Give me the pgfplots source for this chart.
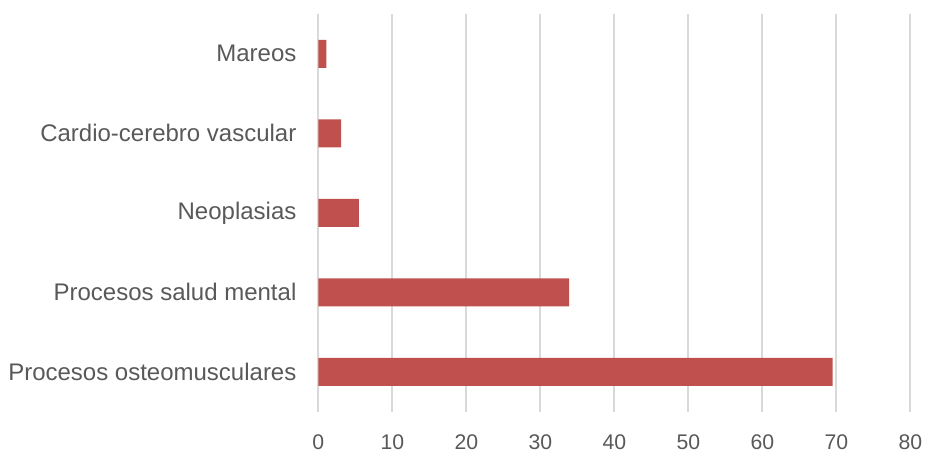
\documentclass[border=0pt]{standalone}
\usepackage{fontspec}
\setmainfont{Liberation Sans}
\usepackage{pgfplots}
\pgfplotsset{compat=1.18}
\definecolor{barred}{HTML}{C0504D}
\definecolor{gridgray}{HTML}{D9D9D9}
\definecolor{txtgray}{HTML}{595959}
\begin{document}
\begin{tikzpicture}
\path[use as bounding box] (-159.15pt,-19.65pt) rectangle (303.35pt,205.85pt);
\begin{axis}[
  at={(0,0)}, anchor=south west,
  scale only axis, width=296pt, height=198.85pt,
  xbar, bar width=14pt,
  xmin=0, xmax=80, ymin=-0.5, ymax=4.5,
  xtick={0,10,...,80},
  ytick={0,1,2,3,4},
  yticklabels={Procesos osteomusculares, Procesos salud mental, Neoplasias, Cardio-cerebro vascular, Mareos},
  axis line style={draw=none},
  xmajorgrids, major grid style={gridgray, line width=1pt},
  major tick length=0pt,
  tick style={draw=none},
  /pgf/number format/assume math mode=true,
  xticklabel style={anchor=north, inner sep=0pt, yshift=-11.2pt, font=\fontsize{10.6}{12}\selectfont, text=txtgray},
  yticklabel style={anchor=east, inner sep=0pt, xshift=-10.75pt, font=\fontsize{12}{14}\selectfont, text=txtgray},
]
\addplot[fill=barred, draw=none] coordinates {(69.5,0) (33.9,1) (5.5,2) (3.1,3) (1.1,4)};
\end{axis}
\end{tikzpicture}
\end{document}
